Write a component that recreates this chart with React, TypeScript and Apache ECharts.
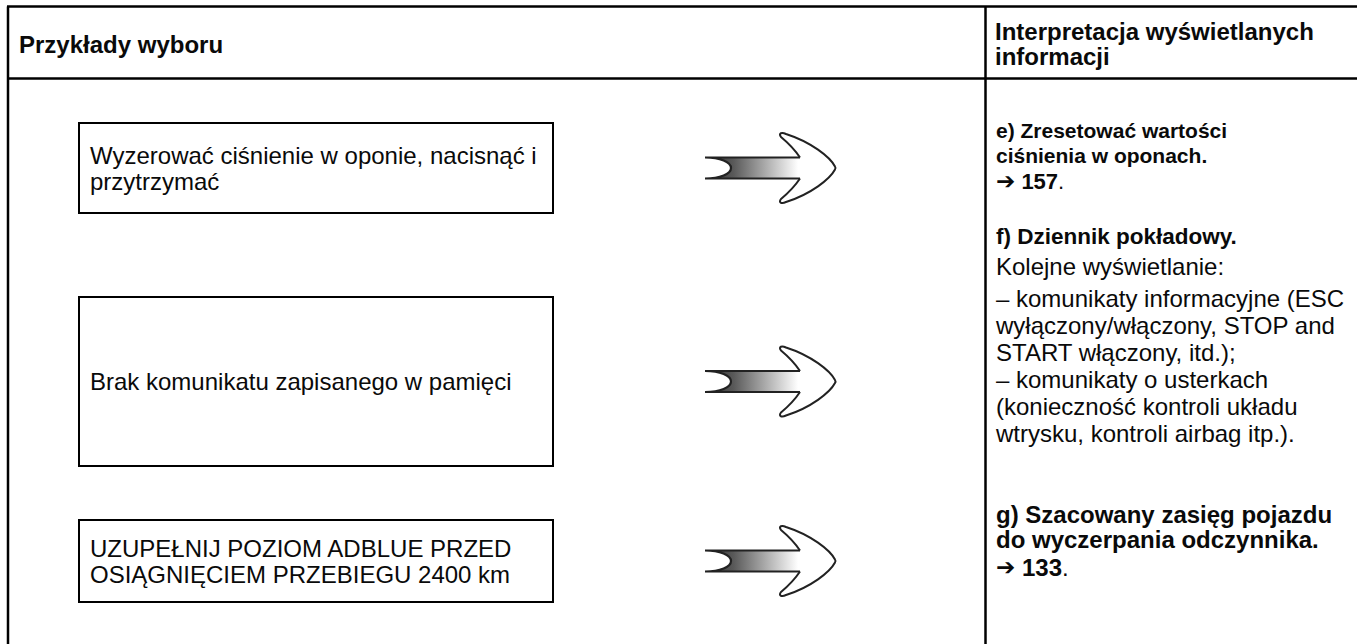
import React, { useEffect, useRef } from "react";
import * as echarts from "echarts";

// ---- content ----
const headerLeft = "Przykłady wyboru";
const headerRight = ["Interpretacja wyświetlanych", "informacji"];
const exampleBoxes = [
  ["Wyzerować ciśnienie w oponie, nacisnąć i", "przytrzymać"],
  ["Brak komunikatu zapisanego w pamięci"],
  ["UZUPEŁNIJ POZIOM ADBLUE PRZED", "OSIĄGNIĘCIEM PRZEBIEGU 2400 km"],
];
const sectionTitles = [
  ["e) Zresetować wartości", "ciśnienia w oponach."],
  ["f) Dziennik pokładowy."],
  ["g) Szacowany zasięg pojazdu", "do wyczerpania odczynnika."],
];
const pageRefs = ["157", "133"];
const logbookIntro = "Kolejne wyświetlanie:";
const logbookLines = [
  "– komunikaty informacyjne (ESC",
  "wyłączony/włączony, STOP and",
  "START włączony, itd.);",
  "– komunikaty o usterkach",
  "(konieczność kontroli układu",
  "wtrysku, kontroli airbag itp.).",
];

// ---- shapes ----
const SHAFT_D =
  "M96,-10.5 L0,-10.5 C15,-10.5 26,-6 26,0 C26,6 15,10.5 0,10.5 L96,10.5";
const HEAD_D =
  "M95,-10.5 C90,-18 82,-26 76,-31 C73,-35 77,-36 81,-34 C106,-26 125,-11 130,-1.5 Q131,0 130,1.5 C125,11 106,26 81,34 C77,36 73,35 76,31 C82,26 90,18 95,10.5";

let registered = false;
function registerShapes() {
  if (registered) return;
  registered = true;
  echarts.graphic.registerShape("arrowShaft", echarts.graphic.extendPath(SHAFT_D, {}) as any);
  echarts.graphic.registerShape("arrowHead", echarts.graphic.extendPath(HEAD_D, {}) as any);
}

const FONT = "'Liberation Sans', Arial, Helvetica, sans-serif";
const INK = "#0a0a0a";

function txt(x: number, y: number, text: string, size: number, bold: boolean): any {
  return {
    type: "text",
    x,
    y,
    silent: true,
    style: {
      text,
      fill: INK,
      fontFamily: FONT,
      fontSize: size,
      fontWeight: bold ? "bold" : "normal",
      align: "left",
      verticalAlign: "middle",
    },
  };
}

function line(x1: number, y1: number, x2: number, y2: number, w: number): any {
  return {
    type: "line",
    silent: true,
    shape: { x1, y1, x2, y2 },
    style: { stroke: "#000", lineWidth: w },
  };
}

function refLine(x: number, y: number, page: string, size: number): any {
  return {
    type: "text",
    x,
    y,
    silent: true,
    style: {
      text: "{a|➔} {b|" + page + "}{c|.}",
      fill: INK,
      fontFamily: FONT,
      fontSize: size,
      align: "left",
      verticalAlign: "middle",
      rich: {
        a: { fontSize: 23, fontFamily: "'DejaVu Sans', sans-serif", fill: INK, fontWeight: "bold" },
        b: { fontSize: size, fontWeight: "bold", fontFamily: FONT, fill: INK },
        c: { fontSize: size, fontWeight: "normal", fontFamily: FONT, fill: INK },
      },
    },
  };
}

function buildGraphic(): any[] {
  const els: any[] = [];
  const W = 1357;
  const H = 644;
  const left = 8;
  const top = 6.5;
  const headerY = 78.5;
  const divX = 985.5;

  // table rules
  els.push(line(left - 1, top, W, top, 2.5));
  els.push(line(left, top, left, H, 2.5));
  els.push(line(left, headerY, W, headerY, 2.5));
  els.push(line(divX, top, divX, H, 2.5));

  // headers
  els.push(txt(19, 44, headerLeft, 24, true));
  headerRight.forEach((t, i) => els.push(txt(995, 31.7 + i * 24.5, t, 24, true)));

  // example boxes + arrows
  const boxLayout = [
    { y: 123, h: 90 },
    { y: 297, h: 169 },
    { y: 520, h: 82 },
  ];
  exampleBoxes.forEach((lines, i) => {
    const b = boxLayout[i];
    els.push({
      type: "rect",
      silent: true,
      shape: { x: 79, y: b.y, width: 474, height: b.h },
      style: { fill: "#fff", stroke: "#000", lineWidth: 2 },
    });
    const cy = b.y + b.h / 2;
    const lh = 26;
    const start = cy - ((lines.length - 1) * lh) / 2;
    lines.forEach((t, j) => els.push(txt(90, start + j * lh, t, 24, false)));

    els.push({
      type: "arrowShaft",
      x: 705,
      y: cy,
      silent: true,
      style: {
        fill: {
          type: "linear",
          x: 0,
          y: 0,
          x2: 1,
          y2: 0,
          colorStops: [
            { offset: 0, color: "#2a2a2a" },
            { offset: 0.3, color: "#5a5a5a" },
            { offset: 0.97, color: "#ffffff" },
            { offset: 1, color: "#ffffff" },
          ],
        },
        stroke: "#222",
        lineWidth: 2.2,
      },
    });
    els.push({
      type: "arrowHead",
      x: 705,
      y: cy,
      silent: true,
      style: { fill: "#fff", stroke: "#222", lineWidth: 2 },
    });
  });

  // right column
  const rx = 996;

  // e)
  sectionTitles[0].forEach((t, i) => els.push(txt(rx, 130.7 + i * 25, t, 21, true)));
  els.push(refLine(rx, 181, pageRefs[0], 22));

  // f)
  els.push(txt(rx, 236, sectionTitles[1][0], 22.5, true));
  els.push(txt(rx, 266.7, logbookIntro, 24, false));
  logbookLines.forEach((t, i) => els.push(txt(rx, 298.7 + i * 27, t, 24, false)));

  // g)
  sectionTitles[2].forEach((t, i) => els.push(txt(rx, 514 + i * 25.5, t, 24, true)));
  els.push(refLine(rx, 567, pageRefs[1], 24));

  return els;
}

export default function App() {
  const ref = useRef<HTMLDivElement>(null);
  useEffect(() => {
    if (!ref.current) return;
    registerShapes();
    const chart = echarts.init(ref.current, undefined, { renderer: "svg" });
    chart.setOption({
      animation: false,
      backgroundColor: "#ffffff",
      graphic: { elements: buildGraphic() },
    });
    return () => chart.dispose();
  }, []);
  return (
    <div
      ref={ref}
      style={{ position: "fixed", left: 0, top: 0, width: 1357, height: 644, background: "#fff" }}
    />
  );
}
